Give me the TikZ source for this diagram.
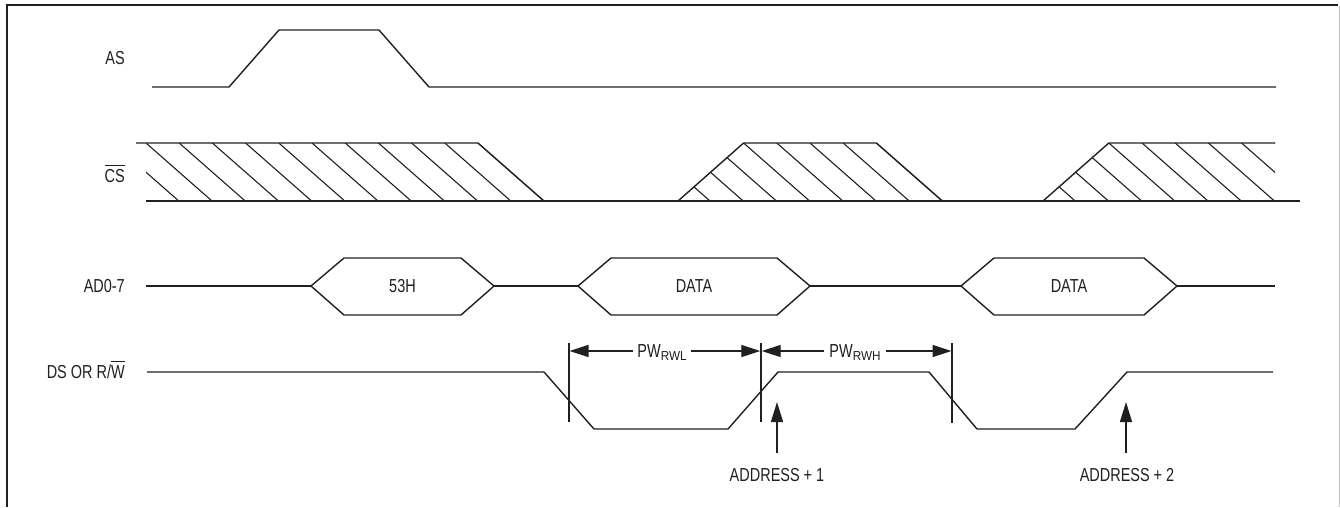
\documentclass[tikz,border=0pt]{standalone}
\usepackage{fontspec}
\setmainfont[FakeStretch=0.77]{Liberation Sans}
\newfontfamily\subfont[FakeStretch=0.9]{Liberation Sans}
\usetikzlibrary{arrows.meta}
\definecolor{ink}{RGB}{35,31,32}
\newcommand\olt[1]{\setbox0\hbox{#1}\rlap{\raisebox{\dimexpr\ht0+3.5pt\relax}{\rule{\wd0}{1.2pt}}}\box0}
\newcommand\subtxt[1]{\raisebox{-2.5pt}{\subfont\fontsize{13}{14}\selectfont #1}}
\begin{document}
\begin{tikzpicture}[x=1pt,y=-1pt,
  sig/.style={draw=ink,line width=1.4pt,line join=miter},
  hatch/.style={draw=ink,line width=1.1pt},
  lbl/.style={font=\fontsize{18.8}{20}\selectfont,text=ink,inner sep=0pt,text height=13.4pt,text depth=0pt},
  pwlbl/.style={lbl,inner xsep=4pt},
  tick/.style={draw=ink,line width=1.3pt},
  dimarrow/.style={draw=ink,line width=1.3pt,-{Triangle[length=19pt,width=12pt]}},
  uparrow/.style={draw=ink,line width=1.3pt,-{Triangle[length=20pt,width=12pt]}}]
\useasboundingbox (0,0) rectangle (1340,507);
\fill[white] (0,0) rectangle (1340,507);
% frame
\draw[ink,line width=2.6pt] (5.5,5) -- (1338,5);
\draw[ink,line width=2.4pt] (7,5) -- (7,507);
\draw[black!25,line width=1pt] (1339,6) -- (1339,507);
% labels
\node[lbl,anchor=east] (las) at (125,58) {AS};
\node[lbl,anchor=east] (lcs) at (125,176) {\olt{CS}};
\node[lbl,anchor=east] (lad) at (125,286) {AD0-7};
\node[lbl,anchor=east] (lds) at (125,372) {DS OR R/\olt{W}};
% AS
\draw[sig] (152,87) -- (229,87) -- (279,30) -- (379,30) -- (429,87) -- (1276,87);
% CS hatching
\begin{scope}
\clip (146,143) -- (478,143) -- (544,201) -- (146,201) -- cycle
      (678,201) -- (743.6,143) -- (876.4,143) -- (942.4,201) -- cycle
      (1043,201) -- (1108.8,143) -- (1275,143) -- (1275,201) -- cycle;
\foreach \k in {-2,...,36} \draw[hatch] ({146+33.2*\k},143) -- ++(66,58);
\end{scope}
\draw[sig] (136,143) -- (478,143) -- (544,201);
\draw[sig] (146,201) -- (1300,201);
\draw[sig] (678,201) -- (743.6,143) -- (876.4,143) -- (942.4,201);
\draw[sig] (1043,201) -- (1108.8,143) -- (1275,143);
% AD0-7
\draw[sig] (146,286) -- (311,286);
\draw[sig] (311,286) -- (344,258) -- (461,258) -- (494,286) -- (461,315) -- (344,315) -- cycle;
\node[lbl] (v53) at (402.5,286) {53H};
\draw[sig] (494,286) -- (578,286);
\draw[sig] (578,286) -- (611,258) -- (777,258) -- (810,286) -- (777,315) -- (611,315) -- cycle;
\node[lbl] (vd1) at (694,286) {DATA};
\draw[sig] (810,286) -- (961,286);
\draw[sig] (961,286) -- (994,258) -- (1144,258) -- (1177,286) -- (1144,315) -- (994,315) -- cycle;
\node[lbl] (vd2) at (1069,286) {DATA};
\draw[sig] (1177,286) -- (1275,286);
% DS
\draw[sig] (147,372) -- (544,372) -- (594,429) -- (728,429) -- (778,372) -- (929,372) -- (977,429) -- (1075,429) -- (1127,372) -- (1273,372);
% ticks
\draw[tick] (569,343) -- (569,422);
\draw[tick] (761,343) -- (761,422);
\draw[tick] (952,343) -- (952,423);
\coordinate (t1) at (569.5,351);
\coordinate (t2l) at (760.3,351);
\coordinate (t2r) at (761.7,351);
\coordinate (t3) at (951.5,351);
\node[pwlbl] (pwl) at (662,351) {PW\subtxt{RWL}};
\node[pwlbl,inner xsep=5pt] (pwh) at (855,351) {PW\subtxt{RWH}};
\draw[dimarrow] (pwl.west) -- (t1);
\draw[dimarrow] (pwl.east) -- (t2l);
\draw[dimarrow] (pwh.west) -- (t2r);
\draw[dimarrow] (pwh.east) -- (t3);
% address arrows
\node[lbl] (a1) at (777,475) {ADDRESS + 1};
\node[lbl] (a2) at (1127,475) {ADDRESS + 2};
\coordinate (a1tail) at (777,453);
\coordinate (a1tip) at (777,402);
\coordinate (a2tail) at (1126,453);
\coordinate (a2tip) at (1126,402);
\draw[uparrow] (a1tail) -- (a1tip);
\draw[uparrow] (a2tail) -- (a2tip);
\end{tikzpicture}
\end{document}
